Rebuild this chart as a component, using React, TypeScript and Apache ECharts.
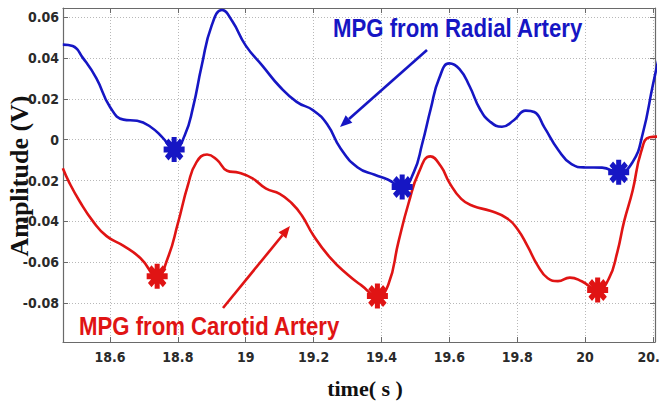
import { useEffect, useRef } from "react";
import * as echarts from "echarts";

// Pulse waveforms: [time (s), amplitude (V)]
const radialArtery: [number, number][] = [
  [18.461, 0.0465], [18.49, 0.0458], [18.52, 0.04], [18.56, 0.03], [18.6, 0.016],
  [18.64, 0.0098], [18.68, 0.0092], [18.72, 0.0062], [18.755, 0.001], [18.789, -0.0048],
  [18.82, 0.002], [18.845, 0.016], [18.87, 0.036], [18.9, 0.056], [18.93, 0.0634],
  [18.96, 0.058], [19.0, 0.046], [19.05, 0.036], [19.1, 0.026], [19.15, 0.0185],
  [19.2, 0.0142], [19.24, 0.0075], [19.28, -0.0045], [19.33, -0.0136], [19.38, -0.0172],
  [19.42, -0.0196], [19.461, -0.0232], [19.495, -0.016], [19.52, -0.002], [19.545, 0.015],
  [19.57, 0.03], [19.6, 0.0373], [19.63, 0.0345], [19.66, 0.026], [19.69, 0.015],
  [19.72, 0.0088], [19.755, 0.0063], [19.79, 0.0095], [19.825, 0.0142], [19.85, 0.0135],
  [19.88, 0.006], [19.92, -0.0048], [19.96, -0.012], [20.0, -0.0136], [20.05, -0.0137],
  [20.099, -0.016], [20.14, -0.011], [20.17, 0.003], [20.2, 0.027], [20.22, 0.042],
];

const carotidArtery: [number, number][] = [
  [18.461, -0.014], [18.48, -0.021], [18.51, -0.03], [18.55, -0.04], [18.59, -0.0472],
  [18.64, -0.052], [18.69, -0.058], [18.739, -0.0668], [18.77, -0.058], [18.8, -0.041],
  [18.83, -0.022], [18.855, -0.011], [18.886, -0.0073], [18.915, -0.0098], [18.945, -0.0152],
  [18.98, -0.0162], [19.02, -0.019], [19.06, -0.024], [19.1, -0.0265], [19.135, -0.031],
  [19.165, -0.037], [19.2, -0.047], [19.25, -0.058], [19.3, -0.066], [19.34, -0.0712],
  [19.388, -0.0765], [19.42, -0.071], [19.45, -0.05], [19.48, -0.031], [19.51, -0.016],
  [19.544, -0.0082], [19.575, -0.013], [19.6, -0.021], [19.635, -0.029], [19.67, -0.0325],
  [19.72, -0.0348], [19.77, -0.0385], [19.8, -0.0436], [19.83, -0.052], [19.86, -0.0615],
  [19.89, -0.0678], [19.92, -0.0692], [19.955, -0.0675], [19.99, -0.0693], [20.037, -0.0736],
  [20.07, -0.068], [20.095, -0.055], [20.115, -0.04], [20.14, -0.025], [20.165, -0.006],
  [20.19, 0.0012], [20.22, 0.0015],
];

// Detected pulse feet
const radialFeet: [number, number][] = [
  [18.789, -0.0048], [19.461, -0.0232], [20.099, -0.016],
];
const carotidFeet: [number, number][] = [
  [18.739, -0.0668], [19.388, -0.0765], [20.037, -0.0736],
];

const xRange = [18.4615, 20.206];
const yRange = [-0.099, 0.0644];

const BLUE = "#1616c4";
const RED = "#e01414";
const FRAME = "#6a6a6a";

// Eight-spoke asterisk marker built from four rotated bars
function asteriskPath(): string {
  const r = 50;
  const w = 12;
  const parts: string[] = [];
  for (const deg of [0, 45, 90, 135]) {
    const a = (deg * Math.PI) / 180;
    const c = Math.cos(a);
    const s = Math.sin(a);
    const pts = [
      [-r, -w], [r, -w], [r, w], [-r, w],
    ].map(([u, v]) => [u * c - v * s, u * s + v * c]);
    parts.push(
      "M" + pts.map((p) => p[0].toFixed(2) + " " + p[1].toFixed(2)).join(" L") + " Z"
    );
  }
  return "path://" + parts.join(" ");
}

function arrow(tail: [number, number], tip: [number, number], color: string) {
  const dx = tip[0] - tail[0];
  const dy = tip[1] - tail[1];
  const len = Math.hypot(dx, dy);
  const ux = dx / len;
  const uy = dy / len;
  const headLen = 12;
  const half = 5;
  const bx = tip[0] - ux * headLen;
  const by = tip[1] - uy * headLen;
  return [
    {
      type: "line",
      shape: { x1: tail[0], y1: tail[1], x2: bx, y2: by },
      style: { stroke: color, lineWidth: 2.6 },
      z: 10,
    },
    {
      type: "polygon",
      shape: {
        points: [
          [tip[0], tip[1]],
          [bx - uy * half, by + ux * half],
          [bx + uy * half, by - ux * half],
        ],
      },
      style: { fill: color },
      z: 10,
    },
  ];
}

const tickFont = "'DejaVu Sans Condensed', 'Liberation Sans', sans-serif";
const noteFont = "bold 26px 'Liberation Sans', Arial, sans-serif";

export default function App() {
  const ref = useRef<HTMLDivElement>(null);

  useEffect(() => {
    document.body.style.margin = "0";
    if (!ref.current) return;
    const chart = echarts.init(ref.current, undefined, { renderer: "svg" });
    const star = asteriskPath();

    const baseX = {
      type: "value" as const,
      min: xRange[0],
      max: xRange[1],
      splitNumber: 8,
    };
    const baseY = {
      type: "value" as const,
      min: yRange[0],
      max: yRange[1],
      splitNumber: 8,
    };
    const frameLine = { show: true, onZero: false, lineStyle: { color: FRAME, width: 1.2 } };
    const innerTick = { show: true, inside: true, length: 5, lineStyle: { color: FRAME } };
    const tickLabel = {
      show: true,
      showMinLabel: false,
      showMaxLabel: false,
      color: "#2a2a2a",
      fontFamily: tickFont,
      fontWeight: "bold",
      fontSize: 14,
    };
    const dottedGrid = {
      show: true,
      lineStyle: { color: "#b8b8b8", type: [1, 2], width: 1 },
    };

    chart.setOption({
      animation: false,
      backgroundColor: "#ffffff",
      grid: {
        left: 63,
        right: 5,
        top: 8,
        bottom: 60,
        containLabel: false,
        outerBoundsMode: "none",
      },
      xAxis: [
        {
          ...baseX,
          position: "bottom",
          axisLine: frameLine,
          axisTick: innerTick,
          axisLabel: { ...tickLabel, margin: 8 },
          splitLine: dottedGrid,
        },
        {
          ...baseX,
          position: "top",
          axisLine: frameLine,
          axisTick: innerTick,
          axisLabel: { show: false },
          splitLine: { show: false },
        },
      ],
      yAxis: [
        {
          ...baseY,
          position: "left",
          axisLine: frameLine,
          axisTick: innerTick,
          axisLabel: { ...tickLabel, margin: 4 },
          splitLine: dottedGrid,
        },
        {
          ...baseY,
          position: "right",
          axisLine: frameLine,
          axisTick: innerTick,
          axisLabel: { show: false },
          splitLine: { show: false },
        },
      ],
      series: [
        {
          name: "MPG from Radial Artery",
          type: "line",
          data: radialArtery,
          showSymbol: false,
          smooth: 0.5,
          lineStyle: { color: BLUE, width: 2.6 },
          itemStyle: { color: BLUE },
          z: 3,
        },
        {
          name: "MPG from Carotid Artery",
          type: "line",
          data: carotidArtery,
          showSymbol: false,
          smooth: 0.5,
          lineStyle: { color: RED, width: 2.6 },
          itemStyle: { color: RED },
          z: 3,
        },
        {
          name: "Radial feet",
          type: "scatter",
          data: radialFeet,
          symbol: star,
          symbolSize: [21, 25],
          itemStyle: { color: BLUE, opacity: 1 },
          z: 5,
        },
        {
          name: "Carotid feet",
          type: "scatter",
          data: carotidFeet,
          symbol: star,
          symbolSize: [21, 25],
          itemStyle: { color: RED, opacity: 1 },
          z: 5,
        },
      ],
      graphic: [
        {
          type: "text",
          x: 333,
          y: 28,
          scaleX: 0.853,
          z: 10,
          style: {
            text: "MPG from Radial Artery",
            fill: BLUE,
            font: noteFont,
            align: "left",
            verticalAlign: "middle",
          },
        },
        {
          type: "text",
          x: 79,
          y: 326,
          scaleX: 0.853,
          z: 10,
          style: {
            text: "MPG from Carotid Artery",
            fill: RED,
            font: noteFont,
            align: "left",
            verticalAlign: "middle",
          },
        },
        ...arrow([427, 50], [340, 127], BLUE),
        ...arrow([223, 308], [290, 226], RED),
        {
          type: "text",
          x: 19,
          y: 176,
          rotation: Math.PI / 2,
          style: {
            text: "Amplitude (V)",
            fill: "#111111",
            font: "bold 26px 'Liberation Serif', 'DejaVu Serif', serif",
            align: "center",
            verticalAlign: "middle",
          },
        },
        {
          type: "text",
          x: 365,
          y: 388,
          style: {
            text: "time( s )",
            fill: "#111111",
            font: "bold 22px 'Liberation Serif', 'DejaVu Serif', serif",
            align: "center",
            verticalAlign: "middle",
          },
        },
      ],
    });

    return () => chart.dispose();
  }, []);

  return <div ref={ref} style={{ width: 660, height: 402 }} />;
}
